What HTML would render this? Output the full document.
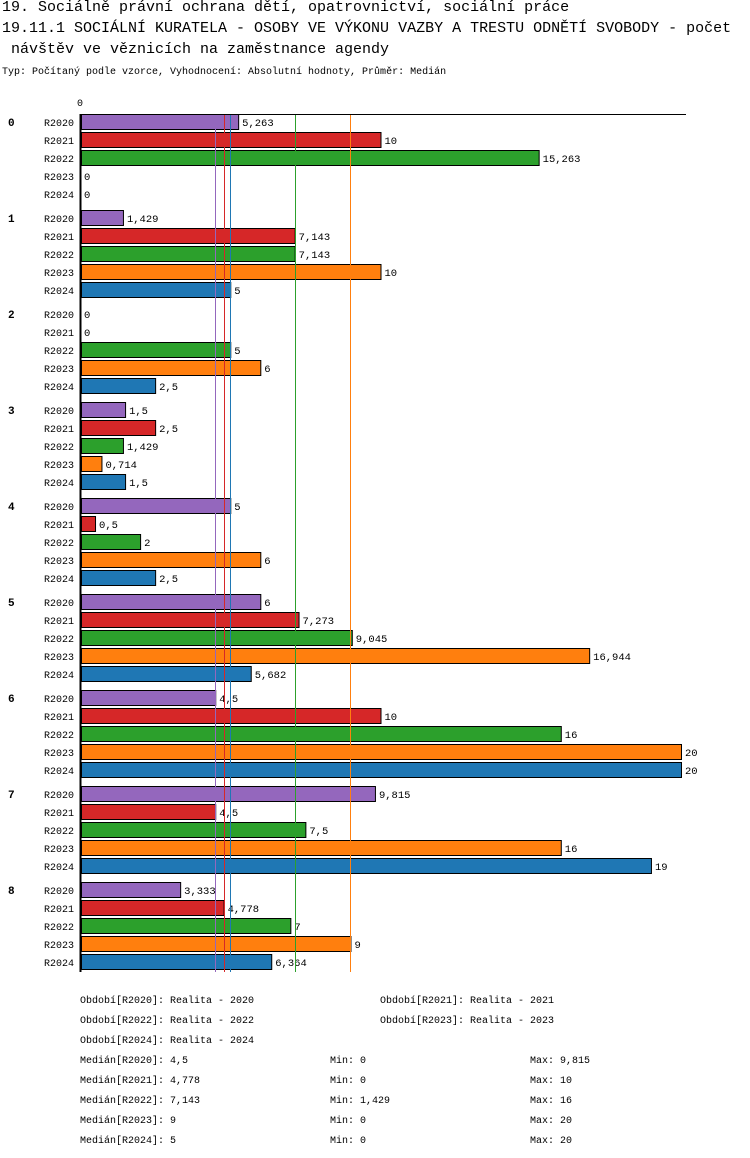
<!DOCTYPE html>
<html><head><meta charset="utf-8"><style>
body{margin:0;background:#fff;width:750px;height:1158px;overflow:hidden;font-family:"Liberation Mono","DejaVu Sans Mono",monospace;}
.t{position:absolute;left:2px;font-size:15px;color:#000;white-space:pre;}
svg{position:absolute;left:0;top:0}
</style></head><body>
<div class="t" style="top:-1px">19. Sociálně právní ochrana dětí, opatrovnictví, sociální práce</div>
<div class="t" style="top:20px">19.11.1 SOCIÁLNÍ KURATELA - OSOBY VE VÝKONU VAZBY A TRESTU ODNĚTÍ SVOBODY - počet</div>
<div class="t" style="top:41px"> návštěv ve věznicích na zaměstnance agendy</div>
<div class="t" style="top:67px;font-size:10px">Typ: Počítaný podle vzorce, Vyhodnocení: Absolutní hodnoty, Průměr: Medián</div>
<svg id="c" width="750" height="1158"></svg>
<script>
const categories=["0","1","2","3","4","5","6","7","8"];
const seriesNames=["R2020","R2021","R2022","R2023","R2024"];
const seriesColors=["#9467bd","#d62728","#2ca02c","#ff7f0e","#1f77b4"];
const r2020=[5.263,1.429,0,1.5,5,6,4.5,9.815,3.333];
const r2021=[10,7.143,0,2.5,0.5,7.273,10,4.5,4.778];
const r2022=[15.263,7.143,5,1.429,2,9.045,16,7.5,7];
const r2023=[0,10,6,0.714,6,16.944,20,16,9];
const r2024=[0,5,2.5,1.5,2.5,5.682,20,19,6.364];
const medians=[4.5,4.778,7.143,9,5];
const mins=["0","0","1,429","0","0"];
const maxs=["9,815","10","16","20","20"];
const legendLabels=["Realita - 2020","Realita - 2021","Realita - 2022","Realita - 2023","Realita - 2024"];
const series=[r2020,r2021,r2022,r2023,r2024];
const svg=document.getElementById('c');const NS='http://www.w3.org/2000/svg';
const x=v=>80+v*30.05;
const rowY=(g,s)=>114+g*96+s*18;
function el(t,a,txt){const e=document.createElementNS(NS,t);for(const k in a)e.setAttribute(k,a[k]);if(txt!==undefined)e.textContent=txt;svg.appendChild(e);return e;}
const fmt=v=>String(v).replace('.',',');
const bottom=rowY(8,4)+18;
let e=el('line',{x1:80,y1:114.5,x2:686,y2:114.5,stroke:'#000'});

e=el('text',{x:77,y:106,'font-size':10},'0');

categories.forEach((c,g)=>{
 e=el('text',{x:8,y:rowY(g,0)+12,'font-size':11,'font-weight':'bold'},c);
 
 series.forEach((arr,s)=>{
  const y=rowY(g,s),v=arr[g];
  e=el('text',{x:44,y:y+12,'font-size':10},seriesNames[s]);
  
  if(v>0){e=el('rect',{x:81.5,y:y+0.5,width:x(v)-81,height:15,fill:seriesColors[s],stroke:'#000'});
   }
  e=el('text',{x:(v>0?x(v):80)+4,y:y+12,'font-size':10.5},fmt(v));
  
 });
});
medians.forEach((m,s)=>{e=el('line',{x1:Math.round(x(m))+0.5,y1:115,x2:Math.round(x(m))+0.5,y2:bottom,stroke:seriesColors[s]});
 });
e=el('line',{x1:80.5,y1:114,x2:80.5,y2:bottom,stroke:'#000','stroke-width':2});

const lp=[[80,1003],[380,1003],[80,1023],[380,1023],[80,1043]];
legendLabels.forEach((l,i)=>{e=el('text',{x:lp[i][0],y:lp[i][1],'font-size':10},'Období['+seriesNames[i]+']: '+l);
 });
medians.forEach((m,i)=>{const y=1063+i*20;
 e=el('text',{x:80,y:y,'font-size':10},'Medián['+seriesNames[i]+']: '+fmt(m));
 e=el('text',{x:330,y:y,'font-size':10},'Min: '+mins[i]);
 e=el('text',{x:530,y:y,'font-size':10},'Max: '+maxs[i]);
});
</script>
</body></html>
